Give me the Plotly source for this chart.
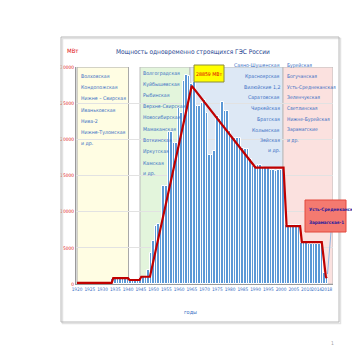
import plotly.graph_objects as go

# ---------------- data ----------------
bar_years = list(range(1934, 2019))
bar_values = [650, 650, 650, 650, 650, 650, 650, 450, 450, 450, 450, 800, 900, 900, 1900,
              4300, 5900, 8000, 8300, 8200, 13500, 13600, 21000, 21000, 19500, 19500,
              24400, 23600, 28100, 28859, 28700, 27600, 27900, 24600, 24600, 25000, 25500,
              23700, 17800, 17900, 18400, 23200, 22800, 25100, 23900, 23900, 21200, 20200,
              20200, 20200, 20200, 18800, 18600, 18600, 17300, 16300, 16300, 16400, 16400,
              16200, 16000, 16000, 15800, 15800, 15600, 15800, 15800, 15900,
              8200, 8200, 8200, 8200, 8200, 8100,
              5600, 5600, 5600, 5500, 5500, 5500, 5500, 5500, 5500, 1500, 900]

line_years = [1920, 1933.6, 1934.2, 1940, 1940.6, 1944.5, 1945.2, 1948.6, 1965, 1990,
              2001, 2002.2, 2007.5, 2008.2, 2016, 2017.6, 2018]
line_values = [150, 150, 800, 800, 550, 550, 1000, 1000, 27400, 16100,
               16100, 8000, 8000, 5800, 5800, 1000, 800]

tick_years = [1920, 1925, 1930, 1935, 1940, 1945, 1950, 1955, 1960, 1965, 1970, 1975,
              1980, 1985, 1990, 1995, 2000, 2005, 2010, 2014, 2018]
tick_labels = [str(y) for y in tick_years]
y_ticks = [0, 5000, 10000, 15000, 20000, 25000, 30000]

peak_label = "28859 МВт"
title_text = "Мощность одновременно строящихся ГЭС России"
unit_text = "МВт"
xaxis_text = "годы"

list_1 = ["Волховская", "Кондопожская", "Нижне – Свирская", "Иваньковская", "Нива-2",
          "Нижне-Туломская", "и др."]
list_2 = ["Волгоградская", "Куйбышевская", "Рыбинская", "Верхне-Свирская", "Новосибирская",
          "Мамаканская", "Воткинская", "Иркутская", "Камская", "и др."]
list_3 = ["Саяно-Шушенская", "Красноярская", "Вилюйские 1,2", "Саратовская", "Чиркейская",
          "Братская", "Колымская", "Зейская", "и др."]
list_4 = ["Бурейская", "Богучанская", "Усть-Среднеканская", "Зеленчукская", "Светлинская",
          "Нижне-Бурейская", "Зарамагские", "и др."]
callout_lines = ["Усть-Среднеканская", "Зарамагская-1"]

# period boundaries (years)
periods = [(1920, 1940.2), (1944.7, 1964.3), (1964.3, 2000.8), (2000.8, 2020.4)]
period_fill = ["#fffde3", "#e3f5dc", "#dde8f5", "#fbe1df"]
period_line = ["#a8a8a8", "#bcbcbc", "#bcbcbc", "#bcbcbc"]

# ---------------- layout helpers ----------------
# coordinates below are screen pixels; the page body adds an 8px margin
OFF = 8
L, R, T, B = 76, 333, 67, 284
SW, SH = 360, 360
NARROW = "Liberation Sans Narrow, DejaVu Sans Condensed, Arial Narrow, sans-serif"


def px(x):
    return (x - L) / (R - L)


def py(y):
    return (B - y) / (B - T)


fig = go.Figure()
fig.add_trace(go.Bar(x=bar_years, y=bar_values, width=1.0,
                     marker=dict(color="#5b98d6", line=dict(width=1.0, color="#ffffff")),
                     hoverinfo="skip"))
fig.add_trace(go.Scatter(x=line_years, y=line_values, mode="lines",
                         line=dict(color="#c00000", width=2.2), hoverinfo="skip"))

shapes = []
for (x0, x1), col, lc in zip(periods, period_fill, period_line):
    shapes.append(dict(type="rect", xref="x", yref="y", x0=x0, x1=x1, y0=0, y1=30000,
                       fillcolor=col, line=dict(color=lc, width=1), layer="below"))
# outer frame with shadow
shapes.append(dict(type="rect", xref="paper", yref="paper", x0=px(62.5), x1=px(340.5),
                   y0=py(323.5), y1=py(38.5), line=dict(color="#e2e2e2", width=1.5)))
shapes.append(dict(type="rect", xref="paper", yref="paper", x0=px(61), x1=px(339),
                   y0=py(322), y1=py(37), line=dict(color="#b8b8b8", width=1)))
# peak label box
shapes.append(dict(type="rect", xref="paper", yref="paper", x0=px(194), x1=px(224),
                   y0=py(82), y1=py(65), fillcolor="#ffff00",
                   line=dict(color="#8c8c3c", width=1)))
# callout box and pointer
shapes.append(dict(type="line", xref="paper", yref="paper", x0=px(331), x1=px(327.5),
                   y0=py(232), y1=py(274), line=dict(color="#8db3e2", width=1)))
shapes.append(dict(type="rect", xref="paper", yref="paper", x0=px(305), x1=px(346),
                   y0=py(232), y1=py(200), fillcolor="#f47a70",
                   line=dict(color="#e2483c", width=1)))

ann = []


def txt(x, y, s, size=5.2, color="#3a6fc4", xanchor="left", bold=False):
    ann.append(dict(x=px(x), y=py(y), xref="paper", yref="paper",
                    text=(f"<b>{s}</b>" if bold else s),
                    showarrow=False, xanchor=xanchor, yanchor="middle",
                    font=dict(size=size, color=color, family=NARROW)))


txt(193, 52, title_text, size=6.5, color="#1f3f8f", xanchor="center")
txt(65, 50, unit_text, size=6, color="#e01010")
for i, s in enumerate(list_1):
    txt(79, 76 + i * 11.2, s)
for i, s in enumerate(list_2):
    txt(141, 73 + i * 11.2, s)
for i, s in enumerate(list_3):
    txt(282, 66 + i * 10.6, s, xanchor="right")
for i, s in enumerate(list_4):
    txt(285, 66 + i * 10.6, s, size=5.0)
txt(209, 73.5, peak_label, size=5.2, color="#e00000", xanchor="center")
for i, s in enumerate(callout_lines):
    txt(307, 210 + i * 12, s, size=4.6, color="#2a1c9c", bold=True)
txt(190, 312, xaxis_text, size=5.5, color="#3a6fc4", xanchor="center")
txt(332, 343, "1", size=5, color="#a0a0a0", xanchor="center")

fig.update_layout(
    width=SW - OFF, height=SH - OFF,
    margin=dict(l=L - OFF, r=SW - R, t=T - OFF, b=SH - B),
    paper_bgcolor="white", plot_bgcolor="rgba(0,0,0,0)",
    showlegend=False, bargap=0, shapes=shapes, annotations=ann,
    font=dict(family=NARROW),
)
fig.update_xaxes(range=[1919.6, 2020.4], tickvals=tick_years, ticktext=tick_labels,
                 tickfont=dict(size=4.7, color="#3a6fc4", family=NARROW), showgrid=False,
                 showline=True, linecolor="#9a9a9a", linewidth=1, ticks="", zeroline=False,
                 tickangle=0)
fig.update_yaxes(range=[0, 30000], tickvals=y_ticks, ticktext=[str(v) for v in y_ticks],
                 tickfont=dict(size=4.8, color="#e01010", family=NARROW),
                 showgrid=True, gridcolor="#e2e2e2", gridwidth=1, showline=True,
                 linecolor="#9a9a9a", linewidth=1, ticks="", zeroline=False)

fig.write_html("out.html")
